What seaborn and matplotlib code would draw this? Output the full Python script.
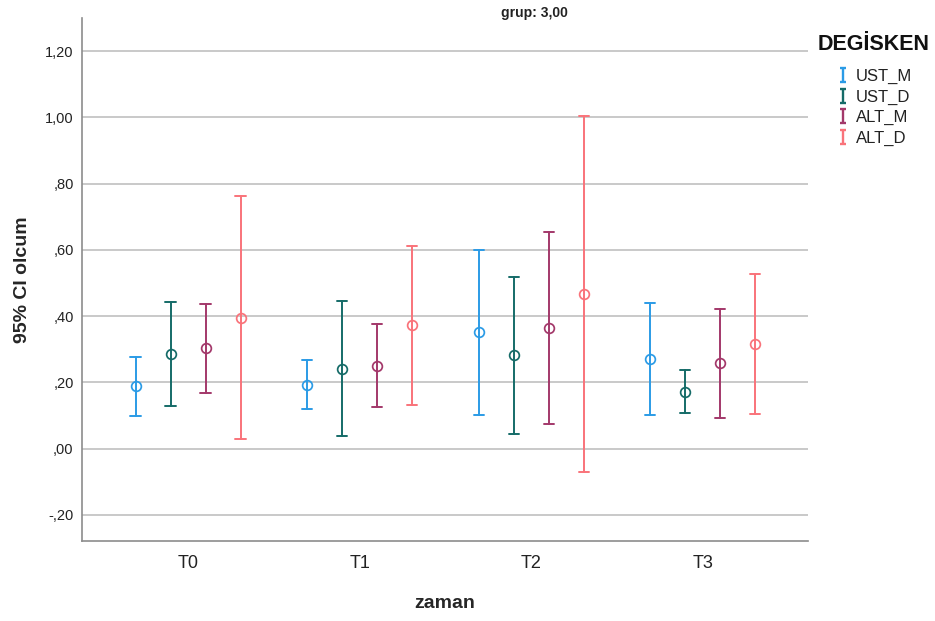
import matplotlib
matplotlib.use("Agg")
import matplotlib.pyplot as plt
from matplotlib.path import Path
from matplotlib.lines import Line2D
from matplotlib.ticker import FuncFormatter
import seaborn as sns
import pandas as pd

zaman = ["T0", "T1", "T2", "T3"]
degisken = ["UST_M", "UST_D", "ALT_M", "ALT_D"]

# mean, lower, upper (95% CI) per variable, in zaman order
ust_m_mean = [0.189, 0.193, 0.351, 0.271]
ust_m_low = [0.100, 0.119, 0.101, 0.102]
ust_m_high = [0.278, 0.268, 0.600, 0.441]

ust_d_mean = [0.286, 0.241, 0.284, 0.172]
ust_d_low = [0.129, 0.038, 0.045, 0.107]
ust_d_high = [0.444, 0.446, 0.519, 0.238]

alt_m_mean = [0.303, 0.250, 0.365, 0.258]
alt_m_low = [0.167, 0.125, 0.075, 0.094]
alt_m_high = [0.437, 0.375, 0.655, 0.422]

alt_d_mean = [0.395, 0.372, 0.467, 0.316]
alt_d_low = [0.029, 0.132, -0.071, 0.105]
alt_d_high = [0.762, 0.611, 1.004, 0.526]

colors = ["#2b9be6", "#156b68", "#a3386a", "#f9737a"]

series = {
    "UST_M": (ust_m_mean, ust_m_low, ust_m_high),
    "UST_D": (ust_d_mean, ust_d_low, ust_d_high),
    "ALT_M": (alt_m_mean, alt_m_low, alt_m_high),
    "ALT_D": (alt_d_mean, alt_d_low, alt_d_high),
}
rows = []
for var, (m, lo, hi) in series.items():
    for i, z in enumerate(zaman):
        for v in (lo[i], m[i], hi[i]):
            rows.append({"zaman": z, "DEGISKEN": var, "olcum": v})
df = pd.DataFrame(rows)

sns.set_theme(style="white")
plt.rcParams["font.family"] = ["Liberation Sans", "DejaVu Sans"]

fig = plt.figure(figsize=(9.35, 6.21), dpi=100)
ax = fig.add_axes([82 / 935, 80 / 621, (808 - 82) / 935, (603 - 80) / 621])

sns.pointplot(
    data=df, x="zaman", y="olcum", hue="DEGISKEN", order=zaman, hue_order=degisken,
    palette=colors, estimator="median",
    errorbar=lambda v: (v.min(), v.max()),
    dodge=0.612, linestyle="none", markers="o", capsize=0.06,
    err_kws={"linewidth": 1.4}, markersize=7, ax=ax, legend=False,
)
for ln in ax.lines:
    ln.set_markerfacecolor("none")
    ln.set_markeredgewidth(1.25)

ax.set_xlim(-0.618, 3.613)
ax.set_ylim(-0.2785, 1.30)
ax.set_yticks([-0.2, 0.0, 0.2, 0.4, 0.6, 0.8, 1.0, 1.2])


def fmt(v, pos):
    s = f"{v:.2f}".replace(".", ",")
    if s.startswith("0,"):
        s = s[1:]
    elif s.startswith("-0,"):
        s = "-" + s[2:]
    return s


ax.yaxis.set_major_formatter(FuncFormatter(fmt))
ax.yaxis.grid(True, color="#c9c9c9", linewidth=1.4)
ax.xaxis.grid(False)
ax.set_axisbelow(True)
for s in ["top", "right"]:
    ax.spines[s].set_visible(False)
for s in ["left", "bottom"]:
    ax.spines[s].set_color("#8c8c8c")
    ax.spines[s].set_linewidth(1.2)
ax.tick_params(axis="y", length=0, pad=6, labelsize=10.5, labelcolor="#222222")
ax.tick_params(axis="x", length=0, pad=10, labelsize=13, labelcolor="#222222")
ax.set_xlabel("zaman", fontsize=14, fontweight="bold", labelpad=17)
ax.set_ylabel("95% CI olcum", fontsize=14, fontweight="bold", labelpad=10)

fig.text(534 / 935, 1 - 13 / 621, "grup: 3,00", ha="center", va="center",
         fontsize=10, fontweight="bold", color="#222222")

fig.text(818 / 935, 1 - 45 / 621, "DEGİSKEN", ha="left", va="center",
         fontsize=15.5, fontweight="bold", color="#111111")

ibeam = Path([(0, -1), (0, 1), (-0.5, 1), (0.5, 1), (-0.5, -1), (0.5, -1)],
             [Path.MOVETO, Path.LINETO, Path.MOVETO, Path.LINETO, Path.MOVETO, Path.LINETO])
handles = [Line2D([], [], linestyle="none", marker=ibeam, markersize=10,
                  markerfacecolor="none", markeredgecolor=c, markeredgewidth=1.7)
           for c in colors]
leg = fig.legend(handles, degisken, loc="upper left", bbox_to_anchor=(838 / 935, 1 - 69 / 621),
                 frameon=False, fontsize=12, handlelength=0.6,
                 handletextpad=0.45, labelspacing=0.33, borderaxespad=0, borderpad=0)
for t in leg.get_texts():
    t.set_color("#222222")

fig.savefig("out.png", dpi=100)
